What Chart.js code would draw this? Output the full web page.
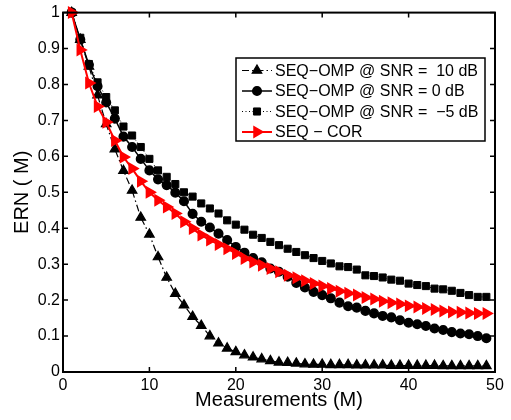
<!DOCTYPE html>
<html lang="en">
    <head>
        <meta charset="UTF-8" />
        <title>ERN vs Measurements</title>
        <script src="https://cdn.jsdelivr.net/npm/chart.js"></script>
        <style>
            html, body {
                margin: 0;
                padding: 0;
                background: #fff;
            }
            .chart-container {
                width: 511px;
                height: 420px;
            }
        </style>
    </head>
    <body>
        <div class="chart-container">
            <canvas id="ernChart" width="511" height="420"></canvas>
        </div>

        <script>
            // measurements M
            const measurements = [1, 2, 3, 4, 5, 6, 7, 8, 9, 10, 11, 12, 13, 14, 15, 16, 17, 18, 19, 20,
                21, 22, 23, 24, 25, 26, 27, 28, 29, 30, 31, 32, 33, 34, 35, 36, 37, 38, 39, 40,
                41, 42, 43, 44, 45, 46, 47, 48, 49];

            // SEQ-OMP @ SNR = 10 dB
            const omp10 = [1.0, 0.925, 0.85, 0.77, 0.69, 0.62, 0.56, 0.505, 0.43, 0.383,
                0.32, 0.263, 0.218, 0.186, 0.154, 0.129, 0.10, 0.08, 0.066, 0.056,
                0.047, 0.041, 0.036, 0.031, 0.027, 0.026, 0.024, 0.022, 0.021, 0.021,
                0.020, 0.020, 0.020, 0.019, 0.019, 0.019, 0.019, 0.018, 0.018, 0.018,
                0.018, 0.018, 0.018, 0.017, 0.017, 0.017, 0.017, 0.017, 0.017];

            // SEQ-OMP @ SNR = 0 dB
            const omp0 = [1.0, 0.925, 0.855, 0.795, 0.75, 0.705, 0.655, 0.626, 0.593, 0.561,
                0.536, 0.52, 0.499, 0.475, 0.44, 0.418, 0.402, 0.385, 0.367, 0.348,
                0.332, 0.317, 0.305, 0.288, 0.279, 0.265, 0.248, 0.235, 0.223, 0.214,
                0.205, 0.193, 0.183, 0.179, 0.170, 0.163, 0.156, 0.152, 0.144, 0.137,
                0.133, 0.128, 0.121, 0.117, 0.111, 0.107, 0.105, 0.100, 0.094];

            // SEQ-OMP @ SNR = -5 dB
            const ompMinus5 = [1.0, 0.93, 0.857, 0.806, 0.765, 0.728, 0.683, 0.658, 0.626, 0.593,
                0.561, 0.543, 0.523, 0.50, 0.488, 0.469, 0.455, 0.441, 0.422, 0.41,
                0.396, 0.382, 0.373, 0.362, 0.353, 0.343, 0.334, 0.325, 0.317, 0.309,
                0.302, 0.294, 0.292, 0.285, 0.269, 0.267, 0.263, 0.257, 0.254, 0.246,
                0.242, 0.239, 0.232, 0.23, 0.226, 0.22, 0.214, 0.209, 0.209];

            // SEQ - COR
            const seqCor = [1.0, 0.896, 0.804, 0.739, 0.695, 0.644, 0.598, 0.566, 0.531, 0.50,
                0.478, 0.459, 0.441, 0.418, 0.399, 0.381, 0.367, 0.355, 0.343, 0.33,
                0.316, 0.306, 0.297, 0.288, 0.279, 0.269, 0.262, 0.254, 0.246, 0.239,
                0.232, 0.225, 0.219, 0.214, 0.207, 0.203, 0.197, 0.193, 0.189, 0.184,
                0.181, 0.177, 0.174, 0.170, 0.167, 0.166, 0.164, 0.163, 0.163];

            const seriesLabels = [
                "SEQ\u2212OMP @ SNR =  10 dB",
                "SEQ\u2212OMP @ SNR = 0 dB",
                "SEQ\u2212OMP @ SNR =  \u22125 dB",
                "SEQ \u2212 COR",
            ];
            const xTickLabels = ["0", "10", "20", "30", "40", "50"];
            const yTickLabels = ["0", "0.1", "0.2", "0.3", "0.4", "0.5", "0.6", "0.7", "0.8", "0.9", "1"];

            const FONT = "'Liberation Sans', Arial, Helvetica, sans-serif";

            function toPoints(ys) {
                return measurements.map((m, i) => ({ x: m, y: ys[i] }));
            }

            // box round the axes, with inward ticks on all four sides
            const framePlugin = {
                id: "frame",
                afterDatasetsDraw(chart) {
                    const { ctx, chartArea: a, scales } = chart;
                    ctx.save();
                    ctx.strokeStyle = "#000";
                    ctx.lineWidth = 1.5;
                    const tick = 5;
                    ctx.beginPath();
                    xTickLabels.forEach((t) => {
                        const px = scales.x.getPixelForValue(Number(t));
                        ctx.moveTo(px, a.bottom);
                        ctx.lineTo(px, a.bottom - tick);
                        ctx.moveTo(px, a.top);
                        ctx.lineTo(px, a.top + tick);
                    });
                    yTickLabels.forEach((t) => {
                        const py = scales.y.getPixelForValue(Number(t));
                        ctx.moveTo(a.left, py);
                        ctx.lineTo(a.left + tick, py);
                        ctx.moveTo(a.right, py);
                        ctx.lineTo(a.right - tick, py);
                    });
                    ctx.stroke();
                    ctx.lineWidth = 2;
                    ctx.strokeRect(a.left, a.top, a.right - a.left, a.bottom - a.top);
                    ctx.restore();
                },
            };

            // legend box inside the axes, top right
            const legendPlugin = {
                id: "boxLegend",
                afterDraw(chart) {
                    const ctx = chart.ctx;
                    const box = { x: 236, y: 58, w: 249, h: 83 };
                    ctx.save();
                    ctx.fillStyle = "#fff";
                    ctx.fillRect(box.x, box.y, box.w, box.h);
                    ctx.strokeStyle = "#000";
                    ctx.lineWidth = 1.5;
                    ctx.strokeRect(box.x, box.y, box.w, box.h);
                    ctx.font = "16px " + FONT;
                    ctx.textBaseline = "middle";
                    chart.data.datasets.forEach((ds, i) => {
                        const y = box.y + 12.5 + i * 20.5;
                        ctx.strokeStyle = ds.borderColor;
                        ctx.lineWidth = ds.borderWidth;
                        ctx.setLineDash(ds.borderDash || []);
                        ctx.beginPath();
                        ctx.moveTo(box.x + 6, y);
                        ctx.lineTo(box.x + 36, y);
                        ctx.stroke();
                        ctx.setLineDash([]);
                        ctx.fillStyle = ds.pointBackgroundColor;
                        ctx.strokeStyle = ds.pointBorderColor;
                        Chart.helpers.drawPoint(ctx, {
                            pointStyle: ds.pointStyle,
                            radius: ds.pointRadius,
                            rotation: ds.pointRotation || 0,
                            borderWidth: 1,
                        }, box.x + 21, y);
                        ctx.fillStyle = "#000";
                        ctx.fillText(ds.label, box.x + 39, y + 1);
                    });
                    ctx.restore();
                },
            };

            const ctx = document.getElementById("ernChart").getContext("2d");
            new Chart(ctx, {
                type: "line",
                data: {
                    datasets: [
                        {
                            label: seriesLabels[0],
                            data: toPoints(omp10),
                            borderColor: "#000",
                            borderWidth: 1.2,
                            borderDash: [7, 3, 1.5, 3],
                            pointStyle: "triangle",
                            pointRadius: 5.5,
                            pointBackgroundColor: "#000",
                            pointBorderColor: "#000",
                            order: 3,
                        },
                        {
                            label: seriesLabels[1],
                            data: toPoints(omp0),
                            borderColor: "#000",
                            borderWidth: 1.5,
                            pointStyle: "circle",
                            pointRadius: 4.3,
                            pointBackgroundColor: "#000",
                            pointBorderColor: "#000",
                            order: 2,
                        },
                        {
                            label: seriesLabels[2],
                            data: toPoints(ompMinus5),
                            borderColor: "#000",
                            borderWidth: 1,
                            borderDash: [1, 2.5],
                            pointStyle: "rect",
                            pointRadius: 5,
                            pointBackgroundColor: "#000",
                            pointBorderColor: "#000",
                            order: 1,
                        },
                        {
                            label: seriesLabels[3],
                            data: toPoints(seqCor),
                            borderColor: "#ff0000",
                            borderWidth: 2,
                            pointStyle: "triangle",
                            pointRotation: 90,
                            pointRadius: 5.5,
                            pointBackgroundColor: "#ff0000",
                            pointBorderColor: "#ff0000",
                            order: 0,
                        },
                    ],
                },
                options: {
                    responsive: false,
                    animation: false,
                    clip: false,
                    layout: { padding: { left: 0, right: 16, top: 12, bottom: 0 } },
                    plugins: {
                        legend: { display: false },
                        tooltip: { enabled: false },
                    },
                    elements: { line: { tension: 0 } },
                    scales: {
                        x: {
                            type: "linear",
                            min: 0,
                            max: 50,
                            grid: { display: false, drawTicks: false },
                            border: { display: false },
                            ticks: {
                                stepSize: 10,
                                padding: 4,
                                color: "#000",
                                font: { family: FONT, size: 16 },
                                maxRotation: 0,
                                callback: (v) => xTickLabels[xTickLabels.indexOf(String(v))] ?? "",
                            },
                            title: {
                                display: true,
                                text: "Measurements (M)",
                                color: "#000",
                                font: { family: FONT, size: 20 },
                                padding: { top: 0, bottom: 8 },
                            },
                            afterFit: (scale) => { scale.height = 48; },
                        },
                        y: {
                            min: 0,
                            max: 1,
                            grid: { display: false, drawTicks: false },
                            border: { display: false },
                            ticks: {
                                stepSize: 0.1,
                                padding: 3,
                                color: "#000",
                                font: { family: FONT, size: 16 },
                                callback: (v, i) => yTickLabels[i],
                            },
                            title: {
                                display: true,
                                text: "ERN ( M)",
                                color: "#000",
                                font: { family: FONT, size: 20 },
                                padding: { top: 10, bottom: 0 },
                            },
                            afterFit: (scale) => { scale.width = 63; },
                        },
                    },
                },
                plugins: [framePlugin, legendPlugin],
            });
        </script>
    </body>
</html>
